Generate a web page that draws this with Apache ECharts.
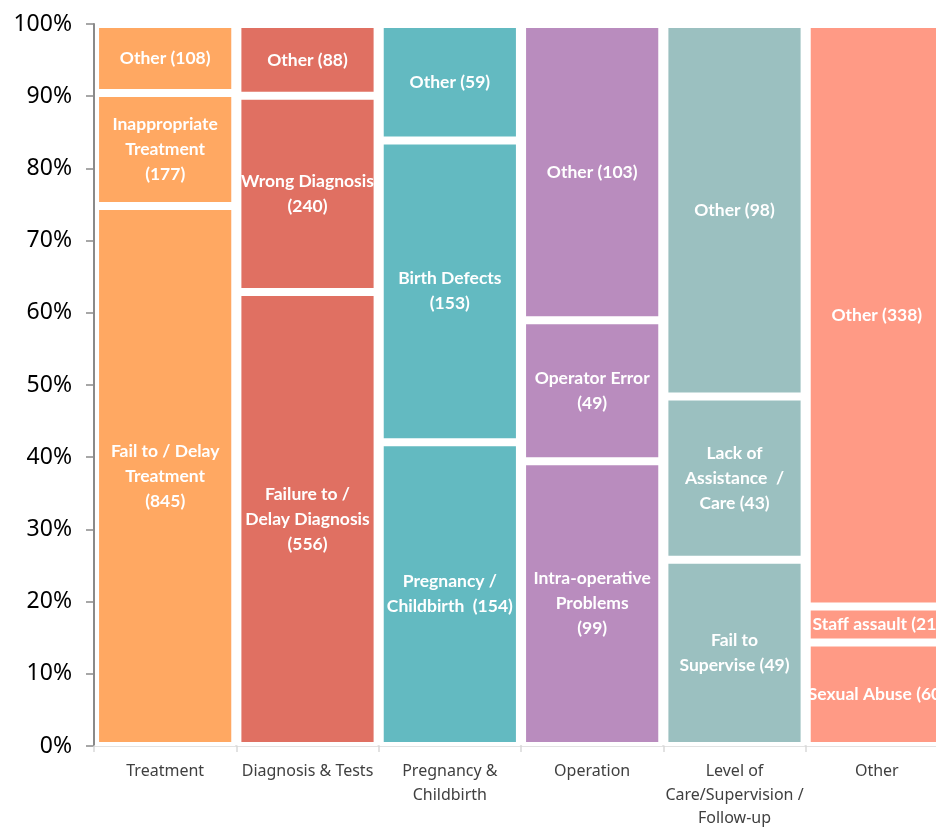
<!DOCTYPE html>
<html>
<head>
<meta charset="utf-8">
<script src="https://cdn.jsdelivr.net/npm/echarts@6/dist/echarts.min.js"></script>
<style>
  html, body { margin: 0; padding: 0; background: #fff; }
  #chart { width: 936px; height: 827px; }
</style>
</head>
<body>
<div id="chart"></div>
<script>
const categories = ['Treatment', 'Diagnosis & Tests', 'Pregnancy &\nChildbirth', 'Operation', 'Level of\nCare/Supervision /\nFollow-up', 'Other']
const colors = ['#FFA862', '#E07062', '#63BAC1', '#B98CBE', '#9BC0C0', '#FF9A85']

// segment name + separator before the count
const bottomNames = ['Fail to / Delay\nTreatment\n', 'Failure to /\nDelay Diagnosis\n', 'Pregnancy /\nChildbirth  ', 'Intra-operative\nProblems\n', 'Fail to\nSupervise ', 'Sexual Abuse ']
const bottomCounts = [845, 556, 154, 99, 49, 60]
const middleNames = ['Inappropriate\nTreatment\n', 'Wrong Diagnosis\n', 'Birth Defects\n', 'Operator Error\n', 'Lack of\nAssistance  /\nCare ', 'Staff assault ']
const middleCounts = [177, 240, 153, 49, 43, 21]
const topNames = ['Other ', 'Other ', 'Other ', 'Other ', 'Other ', 'Other ']
const topCounts = [108, 88, 59, 103, 98, 338]

const totals = categories.map((c, i) => bottomCounts[i] + middleCounts[i] + topCounts[i])

const makeSeries = (names, counts) => ({
  type: 'bar',
  stack: 'all',
  barCategoryGap: '1.5%',
  data: counts.map((v, i) => ({
    value: v / totals[i],
    itemStyle: { color: colors[i] }
  })),
  itemStyle: { borderColor: '#fff', borderWidth: 4 },
  label: {
    show: true,
    position: 'inside',
    color: '#fff',
    fontFamily: 'Lato',
    fontWeight: 'bold',
    fontSize: 17.5,
    lineHeight: 25,
    align: 'center',
    formatter: p => names[p.dataIndex] + '(' + counts[p.dataIndex] + ')'
  },
  emphasis: { disabled: true }
})

const chart = echarts.init(document.getElementById('chart'))
chart.setOption({
  animation: false,
  grid: { left: 94, width: 854, top: 24, bottom: 81, outerBoundsMode: 'none', containLabel: false },
  xAxis: {
    type: 'category',
    data: categories,
    axisLine: { lineStyle: { color: '#d9d9d9', width: 1.5 } },
    axisTick: { show: true, length: 6, lineStyle: { color: '#d9d9d9', width: 1.5 } },
    axisLabel: {
      color: '#404040',
      fontFamily: 'Noto Sans',
      fontSize: 16,
      lineHeight: 23.5,
      margin: 14,
      interval: 0
    }
  },
  yAxis: {
    type: 'value',
    min: 0,
    max: 1,
    interval: 0.1,
    splitLine: { show: false },
    axisLine: { show: true, lineStyle: { color: '#8a8a8a', width: 2 } },
    axisTick: { show: true, length: 8, lineStyle: { color: '#8a8a8a', width: 1.5 } },
    axisLabel: {
      color: '#000',
      fontFamily: 'Noto Sans',
      fontSize: 23,
      margin: 22,
      formatter: v => Math.round(v * 100) + '%'
    }
  },
  series: [
    makeSeries(bottomNames, bottomCounts),
    makeSeries(middleNames, middleCounts),
    makeSeries(topNames, topCounts)
  ]
})
</script>
</body>
</html>
